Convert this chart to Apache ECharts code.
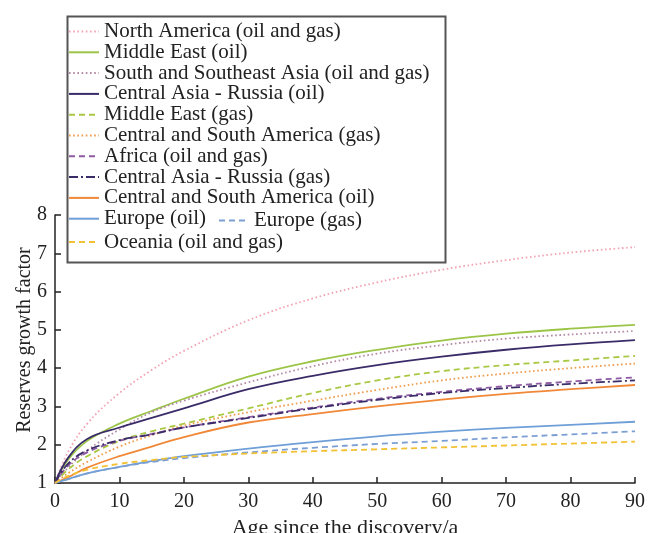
<!DOCTYPE html>
<html>
<head>
<meta charset="utf-8">
<script src="https://cdn.jsdelivr.net/npm/echarts@6/dist/echarts.min.js"></script>
<style>html,body{margin:0;padding:0;background:#fff}#c{width:649px;height:533px}</style>
</head>
<body>
<div id="c"></div>
<script>
// Age since discovery (years)
var ages = [0, 2, 5, 10, 15, 20, 30, 40, 50, 60, 70, 80, 90];
var xTicks = [0, 10, 20, 30, 40, 50, 60, 70, 80, 90];
var yTicks = [1, 2, 3, 4, 5, 6, 7, 8];

var northAmerica   = [1, 1.80, 2.55, 3.35, 3.95, 4.45, 5.25, 5.82, 6.24, 6.57, 6.82, 7.02, 7.16];
var middleEastOil  = [1, 1.60, 2.10, 2.55, 2.88, 3.20, 3.78, 4.18, 4.48, 4.72, 4.90, 5.03, 5.13];
var ssAsia         = [1, 1.40, 1.85, 2.40, 2.85, 3.15, 3.63, 4.05, 4.38, 4.60, 4.77, 4.88, 4.97];
var caRussiaOil    = [1, 1.65, 2.15, 2.45, 2.70, 2.95, 3.45, 3.80, 4.08, 4.30, 4.48, 4.62, 4.73];
var middleEastGas  = [1, 1.35, 1.70, 2.10, 2.35, 2.55, 2.95, 3.35, 3.68, 3.92, 4.08, 4.20, 4.32];
var csAmericaGas   = [1, 1.25, 1.55, 1.95, 2.25, 2.50, 2.85, 3.15, 3.43, 3.68, 3.86, 4.00, 4.12];
var africa         = [1, 1.45, 1.80, 2.10, 2.28, 2.45, 2.72, 2.97, 3.20, 3.38, 3.53, 3.65, 3.76];
var caRussiaGas    = [1, 1.50, 1.85, 2.12, 2.27, 2.45, 2.70, 2.95, 3.17, 3.35, 3.48, 3.59, 3.68];
var csAmericaOil   = [1, 1.15, 1.40, 1.70, 1.95, 2.20, 2.58, 2.80, 3.00, 3.18, 3.33, 3.45, 3.56];
var europeOil      = [1, 1.10, 1.25, 1.42, 1.57, 1.70, 1.90, 2.07, 2.22, 2.34, 2.44, 2.52, 2.60];
var europeGas      = [1, 1.10, 1.25, 1.42, 1.55, 1.65, 1.80, 1.92, 2.02, 2.10, 2.19, 2.27, 2.35];
var oceania        = [1, 1.18, 1.35, 1.50, 1.60, 1.68, 1.77, 1.83, 1.88, 1.93, 1.98, 2.03, 2.08];

var names = [
  'North America (oil and gas)',
  'Middle East (oil)',
  'South and Southeast Asia (oil and gas)',
  'Central Asia - Russia (oil)',
  'Middle East (gas)',
  'Central and South America (gas)',
  'Africa (oil and gas)',
  'Central Asia - Russia (gas)',
  'Central and South America (oil)',
  'Europe (oil)',
  'Europe (gas)',
  'Oceania (oil and gas)'
];
var values = [northAmerica, middleEastOil, ssAsia, caRussiaOil, middleEastGas, csAmericaGas,
              africa, caRussiaGas, csAmericaOil, europeOil, europeGas, oceania];

var DOT = [1.6, 2.6], DASH = [6, 4], DASHDOT = [9, 3, 2, 3];
var styles = [
  {c: '#f2a3b3', t: DOT},
  {c: '#9cc548', t: 'solid'},
  {c: '#b48aa6', t: DOT},
  {c: '#3a2c68', t: 'solid'},
  {c: '#a9c843', t: DASH},
  {c: '#f19a4a', t: DOT},
  {c: '#8e5aa2', t: DASH},
  {c: '#3a2c68', t: DASHDOT},
  {c: '#f08838', t: 'solid'},
  {c: '#6f9fd8', t: 'solid'},
  {c: '#7c9fd3', t: DASH},
  {c: '#f2c134', t: DASH}
];

var series = names.map(function (n, i) {
  return {
    name: n, type: 'line', symbol: 'none', showSymbol: false, smooth: 0.4,
    lineStyle: {color: styles[i].c, type: styles[i].t, width: 1.8},
    itemStyle: {color: styles[i].c},
    data: ages.map(function (a, k) { return [a, values[i][k]]; }),
    z: 2
  };
});

var FONT = '"Liberation Serif", "Times New Roman", serif';
var legendText = {fontFamily: FONT, fontSize: 21, color: '#222', lineHeight: 21};
var legendCommon = {orient: 'vertical', itemWidth: 30, itemHeight: 14, itemGap: -0.2,
  padding: 0, textStyle: legendText, selectedMode: false,
  itemStyle: {opacity: 0, borderWidth: 0}};

var chart = echarts.init(document.getElementById('c'), null, {renderer: 'canvas'});
chart.setOption({
  animation: false,
  backgroundColor: '#fff',
  grid: {left: 55, right: 14, top: 215, bottom: 50, containLabel: false, outerBoundsMode: 'none'},
  xAxis: {
    type: 'value', min: xTicks[0], max: xTicks[xTicks.length - 1], interval: 10,
    name: 'Age since the discovery/a', nameLocation: 'middle', nameGap: 34, nameMoveOverlap: false,
    nameTextStyle: {fontFamily: FONT, fontSize: 22, color: '#222'},
    axisLine: {lineStyle: {color: '#222', width: 1.5}},
    axisTick: {inside: true, length: 6, lineStyle: {color: '#222', width: 1.5}},
    axisLabel: {fontFamily: FONT, fontSize: 20, color: '#222', margin: 9},
    splitLine: {show: false}
  },
  yAxis: {
    type: 'value', min: yTicks[0], max: yTicks[yTicks.length - 1], interval: 1,
    name: 'Reserves growth factor', nameLocation: 'middle', nameGap: 20, nameMoveOverlap: false,
    nameTextStyle: {fontFamily: FONT, fontSize: 20, color: '#222', padding: [0, 0, 0, 18]},
    axisLine: {lineStyle: {color: '#222', width: 1.5}},
    axisTick: {inside: true, length: 6, lineStyle: {color: '#222', width: 1.5}},
    axisLabel: {fontFamily: FONT, fontSize: 20, color: '#222', margin: 8},
    splitLine: {show: false}
  },
  legend: [
    Object.assign({}, legendCommon, {left: 68, top: 21, data: names.slice(0, 10)}),
    Object.assign({}, legendCommon, {left: 218, top: 210, data: [names[10]]}),
    Object.assign({}, legendCommon, {left: 68, top: 231.5, data: [names[11]]})
  ],
  graphic: [{
    type: 'rect', left: 65, top: 14, z: 10, silent: true,
    shape: {width: 378, height: 246},
    style: {fill: 'none', stroke: '#555', lineWidth: 2}
  }],
  series: series
});
</script>
</body>
</html>
